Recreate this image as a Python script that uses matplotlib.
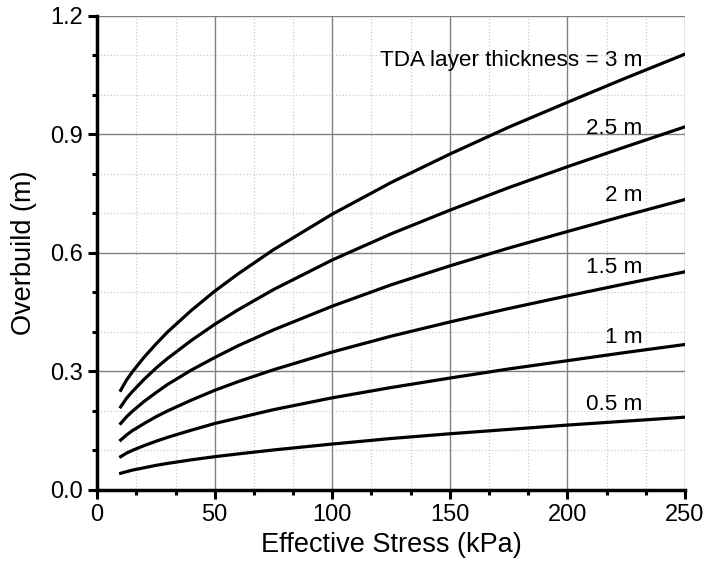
import matplotlib
matplotlib.use("Agg")
import matplotlib.pyplot as plt
from matplotlib.ticker import MultipleLocator, AutoMinorLocator, FormatStrFormatter

plt.rcParams['font.family'] = ['Liberation Sans', 'DejaVu Sans']

stress = [10, 12.5, 15, 20, 25, 30, 40, 50, 60, 75, 100, 125, 150, 175, 200, 225, 250]

# overbuild (m) for each TDA layer thickness
ob_3 = [0.252, 0.278, 0.299, 0.336, 0.369, 0.400, 0.454, 0.503, 0.547, 0.608,
        0.698, 0.778, 0.850, 0.918, 0.981, 1.043, 1.103]
ob_25 = [0.210, 0.232, 0.249, 0.280, 0.308, 0.333, 0.378, 0.419, 0.456, 0.507,
         0.582, 0.648, 0.708, 0.765, 0.818, 0.869, 0.919]
ob_2 = [0.168, 0.185, 0.199, 0.224, 0.246, 0.267, 0.303, 0.335, 0.365, 0.405,
        0.465, 0.519, 0.567, 0.612, 0.654, 0.695, 0.735]
ob_15 = [0.126, 0.139, 0.150, 0.168, 0.185, 0.200, 0.227, 0.252, 0.274, 0.304,
         0.349, 0.389, 0.425, 0.459, 0.491, 0.522, 0.552]
ob_1 = [0.084, 0.093, 0.100, 0.112, 0.123, 0.133, 0.151, 0.168, 0.182, 0.203,
        0.233, 0.259, 0.283, 0.306, 0.327, 0.348, 0.368]
ob_05 = [0.042, 0.046, 0.050, 0.056, 0.062, 0.067, 0.076, 0.084, 0.091, 0.101,
         0.116, 0.130, 0.142, 0.153, 0.164, 0.174, 0.184]

series = [ob_3, ob_25, ob_2, ob_15, ob_1, ob_05]
labels = ["TDA layer thickness = 3 m", "2.5 m", "2 m", "1.5 m", "1 m", "0.5 m"]
label_y = [1.086, 0.916, 0.744, 0.563, 0.386, 0.216]

fig = plt.figure(figsize=(7.04, 5.65), dpi=100)
ax = fig.add_axes([0.138, 0.133, 0.835, 0.839])

for s in series:
    ax.plot(stress, s, color="black", lw=2.3, solid_joinstyle="round", zorder=3)

for lab, ly in zip(labels, label_y):
    ax.text(231.8, ly, lab, ha="right", va="center", fontsize=16.2, zorder=4)

ax.set_xlim(0, 250)
ax.set_ylim(0, 1.2)
ax.xaxis.set_major_locator(MultipleLocator(50))
ax.yaxis.set_major_locator(MultipleLocator(0.3))
ax.xaxis.set_minor_locator(AutoMinorLocator(3))
ax.yaxis.set_minor_locator(AutoMinorLocator(3))
ax.yaxis.set_major_formatter(FormatStrFormatter("%.1f"))

ax.grid(which="major", color="#808080", lw=1.0, ls="-", zorder=0)
ax.grid(which="minor", color="#cccccc", lw=0.9, ls=":", zorder=0)
ax.set_axisbelow(True)
ax.xaxis.get_major_ticks()[-1].gridline.set_visible(False)
ax.yaxis.get_major_ticks()[-1].gridline.set_visible(False)

for side in ["top", "right"]:
    ax.spines[side].set_visible(False)
for side in ["left", "bottom"]:
    ax.spines[side].set_linewidth(2.5)

ax.tick_params(which="major", direction="out", length=6.5, width=2.2, labelsize=17, pad=4)
ax.tick_params(which="minor", direction="out", length=3.8, width=2.2)

ax.set_xlabel("Effective Stress (kPa)", fontsize=19.5, labelpad=4)
ax.set_ylabel("Overbuild (m)", fontsize=19.5, labelpad=9)

fig.savefig("out.png", dpi=100)
